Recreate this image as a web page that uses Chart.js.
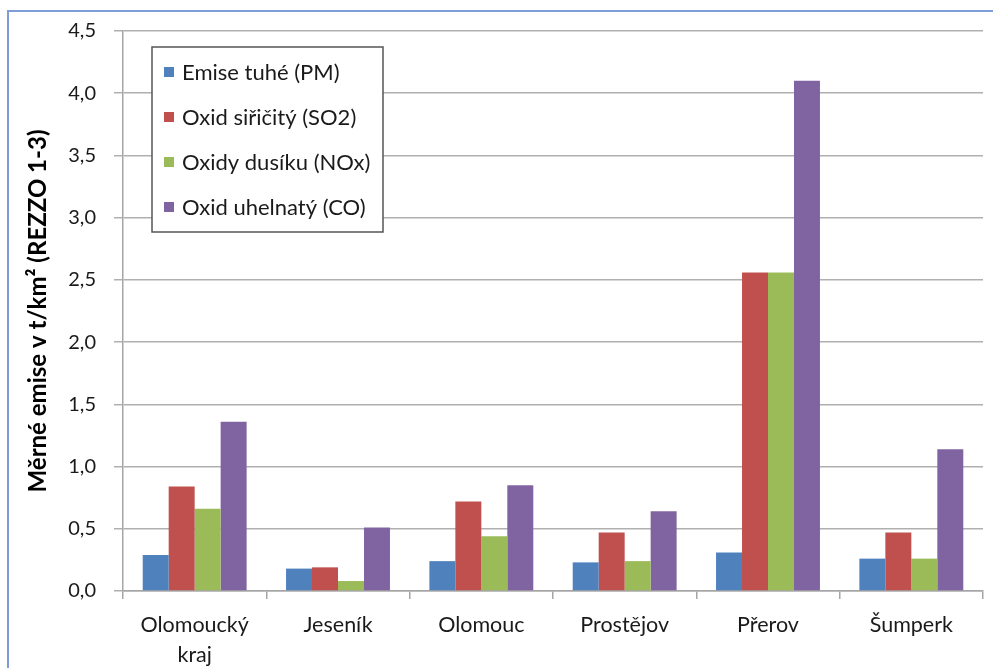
<!DOCTYPE html>
<html>
<head>
<meta charset="utf-8">
<script src="https://cdn.jsdelivr.net/npm/chart.js@4/dist/chart.umd.min.js"></script>
<style>
  html, body { margin: 0; padding: 0; background: #fff; }
  #wrap { position: relative; width: 993px; height: 668px; }
</style>
</head>
<body>
<div id="wrap"><canvas id="emise"></canvas></div>
<script>
const categories = [["Olomoucký", "kraj"], "Jeseník", "Olomouc", "Prostějov", "Přerov", "Šumperk"];
const seriesNames = ["Emise tuhé (PM)", "Oxid siřičitý (SO2)", "Oxidy dusíku (NOx)", "Oxid uhelnatý (CO)"];
const pm = [0.29, 0.18, 0.24, 0.23, 0.31, 0.26];
const so2 = [0.84, 0.19, 0.72, 0.47, 2.56, 0.47];
const nox = [0.66, 0.08, 0.44, 0.24, 2.56, 0.26];
const co = [1.36, 0.51, 0.85, 0.64, 4.10, 1.14];
const colors = ["#4f81bd", "#c0504d", "#9bbb59", "#8064a2"];

const FONT = "Lato, 'Open Sans', sans-serif";

// ramecek kolem celeho grafu
const frame = {
  id: "frame",
  beforeDraw(chart) {
    const ctx = chart.ctx;
    ctx.save();
    ctx.strokeStyle = "#7f9ed8";
    ctx.lineWidth = 2;
    ctx.strokeRect(8, 11, 1200, 1000);
    ctx.restore();
  }
};

// legenda v ramecku uvnitr plochy grafu
const boxLegend = {
  id: "boxLegend",
  afterDatasetsDraw(chart) {
    const ctx = chart.ctx;
    const x = 152, y = 47, w = 231, h = 185;
    ctx.save();
    ctx.fillStyle = "#fff";
    ctx.fillRect(x, y, w, h);
    ctx.strokeStyle = "#555";
    ctx.lineWidth = 1.5;
    ctx.strokeRect(x, y, w, h);
    ctx.font = "22px " + FONT;
    ctx.textBaseline = "middle";
    chart.data.datasets.forEach((ds, i) => {
      const cy = y + 25 + i * 45;
      ctx.fillStyle = ds.backgroundColor;
      ctx.fillRect(x + 12, cy - 5, 10, 10);
      ctx.fillStyle = "#1a1a1a";
      ctx.fillText(ds.label, x + 30, cy + 1);
    });
    ctx.restore();
  }
};

const values = [pm, so2, nox, co];

new Chart(document.getElementById("emise"), {
  type: "bar",
  data: {
    labels: categories,
    datasets: values.map((v, i) => ({
      label: seriesNames[i],
      data: v,
      backgroundColor: colors[i],
      borderWidth: 0,
      categoryPercentage: 0.725,
      barPercentage: 1.0
    }))
  },
  options: {
    responsive: true,
    maintainAspectRatio: false,
    animation: false,
    layout: { padding: { top: 31, right: 10, left: 0, bottom: 0 } },
    plugins: {
      legend: { display: false },
      tooltip: { enabled: false }
    },
    scales: {
      x: {
        afterFit(scale) { scale.height = 77; },
        grid: {
          drawOnChartArea: false,
          drawTicks: true,
          tickLength: 8,
          color: "#a6a6a6",
          lineWidth: 1.5
        },
        border: { color: "#a6a6a6", width: 1.5 },
        ticks: {
          color: "#1a1a1a",
          font: { family: FONT, size: 21.5, lineHeight: 1.4 },
          padding: 11,
          maxRotation: 0
        }
      },
      y: {
        min: 0,
        max: 4.5,
        afterFit(scale) { scale.width = 123; },
        grid: {
          color: "#b0b0b0",
          lineWidth: 1.5,
          tickLength: 9
        },
        border: { color: "#a6a6a6", width: 1.5 },
        ticks: {
          stepSize: 0.5,
          color: "#1a1a1a",
          padding: 18,
          font: { family: FONT, size: 20 },
          callback: (v) => v.toFixed(1).replace(".", ",")
        },
        title: {
          display: true,
          text: "Měrné emise v t/km² (REZZO 1-3)",
          color: "#000",
          padding: { top: 24, bottom: 0 },
          font: { family: FONT, size: 24, weight: "bold" }
        }
      }
    }
  },
  plugins: [frame, boxLegend]
});
</script>
</body>
</html>
